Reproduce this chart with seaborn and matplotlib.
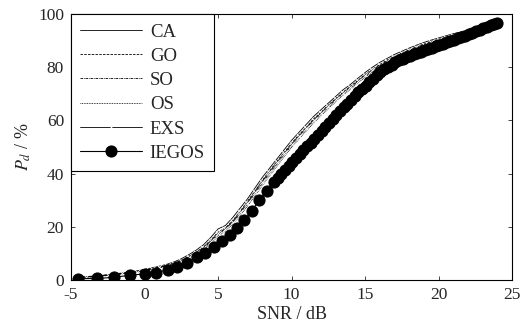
import numpy as np
import pandas as pd
import matplotlib
matplotlib.use("Agg")
import matplotlib.pyplot as plt
import seaborn as sns

# SNR grid of the simulated detector curves
snr = [-4.5, -4.0, -3.5, -3.0, -2.5, -2.0, -1.5, -1.0, -0.5, 0.0,
       0.5, 1.0, 1.5, 2.0, 2.5, 3.0, 3.5, 4.0, 4.5, 5.0,
       5.5, 6.0, 6.5, 7.0, 7.5, 8.0, 8.5, 9.0, 9.5, 10.0,
       10.5, 11.0, 11.5, 12.0, 12.5, 13.0, 13.5, 14.0, 14.5, 15.0,
       15.5, 16.0, 16.5, 17.0, 17.5, 18.0, 18.5, 19.0, 19.5, 20.0,
       20.5, 21.0, 21.5, 22.0, 22.5, 23.0, 23.5, 24.0]

pd_ca = [1.2, 1.3, 1.5, 1.7, 2.0, 2.3, 2.7, 3.1, 3.5, 4.0,
         4.6, 5.2, 5.9, 6.8, 8.0, 9.5, 11.2, 13.2, 16.0, 19.2,
         20.5, 23.5, 27.0, 30.5, 34.5, 38.5, 42.0, 45.5, 49.0, 52.5,
         55.5, 58.5, 61.5, 64.0, 66.5, 69.0, 71.5, 73.5, 75.8, 78.0,
         80.0, 81.8, 83.3, 84.8, 86.0, 87.2, 88.3, 89.3, 90.2, 91.0,
         91.8, 92.6, 93.3, 94.0, 94.7, 95.3, 96.0, 96.7]

pd_go = [1.1, 1.2, 1.4, 1.6, 1.9, 2.2, 2.5, 2.9, 3.3, 3.8,
         4.3, 4.9, 5.6, 6.4, 7.5, 8.9, 10.5, 12.4, 15.0, 18.0,
         19.6, 22.4, 25.8, 29.6, 33.4, 37.4, 41.0, 44.6, 48.0, 51.4,
         54.6, 57.4, 60.6, 63.0, 65.8, 68.2, 70.6, 72.8, 75.0, 77.3,
         79.3, 81.0, 82.7, 84.1, 85.4, 86.6, 87.8, 88.7, 89.7, 90.5,
         91.3, 92.1, 92.9, 93.6, 94.3, 95.0, 95.7, 96.5]

pd_so = [1.0, 1.1, 1.3, 1.5, 1.8, 2.0, 2.4, 2.7, 3.1, 3.6,
         4.1, 4.7, 5.3, 6.1, 7.1, 8.5, 10.0, 11.8, 14.3, 17.2,
         19.0, 21.6, 25.0, 28.6, 32.5, 36.4, 40.2, 43.6, 47.2, 50.5,
         53.8, 56.8, 59.7, 62.4, 65.0, 67.6, 70.0, 72.2, 74.4, 76.7,
         78.6, 80.5, 82.1, 83.6, 84.9, 86.2, 87.3, 88.3, 89.2, 90.1,
         90.9, 91.7, 92.5, 93.2, 94.0, 94.7, 95.5, 96.3]

pd_os = [0.9, 1.0, 1.2, 1.4, 1.7, 1.9, 2.2, 2.6, 3.0, 3.4,
         3.9, 4.5, 5.1, 5.8, 6.8, 8.1, 9.6, 11.3, 13.7, 16.5,
         18.4, 21.0, 24.2, 27.8, 31.6, 35.5, 39.2, 42.8, 46.4, 49.8,
         53.0, 56.0, 59.0, 61.8, 64.4, 67.0, 69.5, 71.7, 74.0, 76.2,
         78.2, 80.1, 81.7, 83.2, 84.6, 85.9, 87.0, 88.0, 89.0, 89.9,
         90.7, 91.5, 92.3, 93.0, 93.8, 94.5, 95.3, 96.1]

pd_exs = [1.1, 1.2, 1.4, 1.6, 1.9, 2.1, 2.5, 2.8, 3.2, 3.7,
          4.2, 4.8, 5.4, 6.2, 7.3, 8.7, 10.3, 12.1, 14.6, 17.6,
          19.3, 22.0, 25.4, 29.1, 33.0, 37.0, 40.6, 44.2, 47.6, 51.0,
          54.2, 57.1, 60.2, 62.7, 65.4, 67.9, 70.3, 72.5, 74.7, 77.0,
          78.9, 80.8, 82.4, 83.9, 85.2, 86.4, 87.5, 88.5, 89.4, 90.3,
          91.1, 91.9, 92.7, 93.4, 94.1, 94.8, 95.6, 96.4]

# IEGOS points (irregular SNR sampling, denser at high SNR)
snr_iegos = [-4.5, -3.2, -2.1, -1.0, 0.0, 0.75, 1.6, 2.2, 2.9, 3.6,
             4.1, 4.7, 5.3, 5.8, 6.3, 6.8, 7.3, 7.8, 8.3, 8.8,
             9.05, 9.3, 9.55, 9.8, 10.05, 10.3, 10.55, 10.8, 11.05, 11.3,
             11.55, 11.8, 12.05, 12.3, 12.55, 12.8, 13.05, 13.3, 13.55, 13.8,
             14.05, 14.3, 14.55, 14.8, 15.05, 15.3, 15.55, 15.8, 16.05, 16.3,
             16.55, 16.8, 17.05, 17.3, 17.55, 17.8, 18.05, 18.3, 18.55, 18.8,
             19.05, 19.3, 19.55, 19.8, 20.05, 20.3, 20.55, 20.8, 21.05, 21.3,
             21.55, 21.8, 22.05, 22.3, 22.55, 22.8, 23.05, 23.3, 23.55, 23.8, 24.0]
pd_iegos = [0.5, 0.6, 1.0, 1.8, 2.3, 2.8, 3.8, 5.0, 6.5, 8.6,
            10.3, 12.5, 14.5, 17.0, 19.5, 22.5, 26.0, 30.0, 33.5, 37.0,
            38.3, 39.8, 41.4, 43.0, 44.5, 46.0, 47.5, 49.0, 50.3, 51.6,
            53.0, 54.5, 56.0, 57.5, 59.0, 60.5, 62.0, 63.5, 64.9, 66.3,
            67.8, 69.2, 70.5, 71.8, 73.1, 74.4, 75.7, 77.0, 78.1, 79.2,
            80.1, 81.0, 81.8, 82.6, 83.2, 83.8, 84.4, 84.9, 85.4, 85.9,
            86.4, 86.9, 87.4, 87.9, 88.4, 88.9, 89.4, 89.9, 90.4, 90.9,
            91.4, 91.9, 92.4, 92.9, 93.5, 94.1, 94.7, 95.2, 95.7, 96.2, 96.6]

sns.set_style("ticks")
plt.rcParams["font.family"] = ["Liberation Serif", "DejaVu Serif"]
plt.rcParams["mathtext.fontset"] = "stix"
plt.rcParams["axes.unicode_minus"] = False

fig = plt.figure(figsize=(5.32, 3.26), dpi=100)
ax = fig.add_axes([0.1335, 0.141, 0.829, 0.816])

sns.lineplot(x=snr, y=pd_ca, ax=ax, color="black", lw=0.6, ls="-", label="CA")
sns.lineplot(x=snr, y=pd_go, ax=ax, color="black", lw=0.6, ls=(0, (3, 1.5)), label="GO")
sns.lineplot(x=snr, y=pd_so, ax=ax, color="black", lw=0.6, ls=(0, (3, 1, 1, 1)), label="SO")
sns.lineplot(x=snr, y=pd_os, ax=ax, color="black", lw=0.6, ls=(0, (1, 1)), label="OS")
sns.lineplot(x=snr, y=pd_exs, ax=ax, color="black", lw=0.6, ls="-", marker="x",
             markersize=4, markeredgewidth=0.6, label="EXS")
sns.lineplot(x=snr_iegos, y=pd_iegos, ax=ax, color="black", lw=0.8, ls="-", marker="o",
             markersize=8, markeredgecolor="black", label="IEGOS")

ax.set_xlim(-5, 25)
ax.set_ylim(0, 100)
ax.set_xticks([-5, 0, 5, 10, 15, 20, 25])
ax.set_yticks([0, 20, 40, 60, 80, 100])
ax.tick_params(direction="in", top=True, right=True, labelsize=12.5, length=3, width=0.6, pad=5)
for s in ax.spines.values():
    s.set_linewidth(0.8)
    s.set_color("black")

ax.set_xlabel("SNR / dB", fontsize=13, labelpad=2)
ax.set_ylabel("$P_d$ / %", fontsize=13, labelpad=4)

leg = ax.legend(loc="upper left", borderaxespad=0, fontsize=13.5, handlelength=3.3,
                fancybox=False, framealpha=1, edgecolor="black", labelspacing=0.38,
                borderpad=0.5, handletextpad=0.4)
leg.get_frame().set_linewidth(0.8)

fig.savefig("out.png", dpi=100)
